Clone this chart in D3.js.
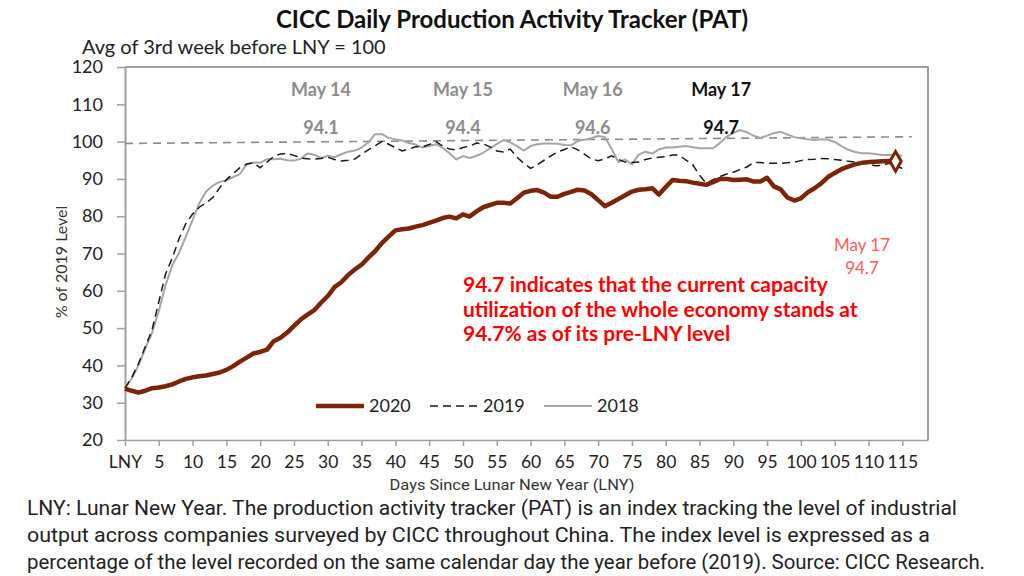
<!DOCTYPE html>
<html><head><meta charset="utf-8">
<script src="https://cdn.jsdelivr.net/npm/d3@7"></script>
<style>
html,body{margin:0;padding:0;background:#fff;}
svg{display:block;}
</style></head>
<body>
<svg id="chart" width="1024" height="576"></svg>
<script>
// ---------- data ----------
const xTicks = [0,5,10,15,20,25,30,35,40,45,50,55,60,65,70,75,80,85,90,95,100,105,110,115];
const xTickLabels = ["LNY","5","10","15","20","25","30","35","40","45","50","55","60","65","70","75","80","85","90","95","100","105","110","115"];
const yTicks = [20,30,40,50,60,70,80,90,100,110,120];

const s2020 = [33.8,33.2,32.7,33.2,33.9,34.1,34.4,34.9,35.7,36.4,36.8,37.1,37.3,37.7,38.1,38.8,39.8,41.0,42.1,43.2,
43.6,44.2,46.5,47.4,48.8,50.6,52.3,53.6,54.8,56.8,58.6,61.0,62.3,64.2,65.7,67.0,68.9,70.6,72.8,74.5,
76.2,76.5,76.7,77.2,77.6,78.2,78.8,79.5,79.9,79.4,80.5,79.9,81.3,82.4,83.0,83.6,83.6,83.4,84.8,86.3,
86.8,87.0,86.3,85.2,85.2,86.0,86.5,87.1,86.9,85.9,84.3,82.7,83.6,84.6,85.6,86.6,87.1,87.2,87.5,85.8,
87.8,89.7,89.5,89.4,89.0,88.7,88.4,89.1,90.0,90.0,89.7,89.8,89.9,89.3,89.3,90.3,88.0,87.2,85.0,84.2,
84.8,86.4,87.5,88.8,90.5,91.6,92.6,93.3,93.9,94.3,94.5,94.6,94.7,94.8,94.7];

const s2019 = [33.9,36.8,40.5,45.0,49.5,57.0,64.5,68.8,74.0,78.0,80.6,82.4,83.6,85.0,87.6,89.8,91.4,93.0,94.0,94.3,
93.0,94.5,96.0,96.7,96.8,96.3,95.6,95.4,95.3,95.5,95.8,95.2,94.8,95.0,95.3,96.6,97.8,98.9,100.0,99.3,
98.4,97.5,98.0,98.6,98.6,99.2,100.0,98.8,98.0,97.8,98.4,98.8,99.6,99.4,98.6,97.5,97.2,98.0,95.8,94.2,
92.8,93.8,95.0,96.2,97.2,97.9,98.6,97.8,96.6,95.3,94.9,95.4,96.2,95.2,94.5,94.4,94.5,95.2,95.6,95.8,
96.0,96.4,96.4,95.0,93.8,91.0,88.8,89.8,90.6,91.3,91.8,92.5,93.2,94.4,94.4,94.2,94.2,94.2,94.3,94.5,
94.9,95.2,95.3,95.5,95.4,95.2,95.0,94.7,94.5,94.3,94.0,93.5,93.6,94.2,93.6,92.8];

const s2018 = [33.9,36.5,40.0,44.5,48.7,54.5,61.5,66.9,70.2,74.5,79.0,83.5,86.6,88.2,89.2,89.6,90.5,91.3,93.9,94.4,
94.3,95.3,95.3,95.4,95.0,94.9,95.4,96.8,96.5,95.6,96.2,95.8,96.6,97.3,97.6,98.4,99.8,102.0,102.0,101.0,
100.6,100.3,99.6,99.2,98.4,98.8,99.3,98.3,96.9,95.2,96.1,95.6,96.2,97.0,98.2,99.3,100.4,99.8,98.8,97.6,
98.8,99.3,99.5,99.5,99.4,99.1,99.0,100.2,100.5,100.9,101.5,101.2,98.0,94.5,95.2,93.9,96.5,97.3,96.8,97.9,
98.4,98.4,98.6,98.8,98.5,98.2,98.2,98.2,99.6,101.3,102.3,103.1,102.5,101.6,101.0,101.6,102.3,102.6,101.9,101.2,
100.9,100.6,100.4,100.6,100.5,99.9,98.8,97.8,97.2,96.9,96.9,96.7,96.4,96.4,96.4,96.2];

const refLine = [{d:0, v:99.5},{d:116.4, v:101.3}];

const peakLabels = [
  {d:29, date:"May 14", val:"94.1", color:"#8c8c8c"},
  {d:50, date:"May 15", val:"94.4", color:"#8c8c8c"},
  {d:69.2, date:"May 16", val:"94.6", color:"#8c8c8c"},
  {d:88.2, date:"May 17", val:"94.7", color:"#111111"}
];
const redNote = ["94.7 indicates that the current capacity","utilization of the whole economy stands at","94.7% as of its pre-LNY level"];
const footnote = [
  "LNY: Lunar New Year. The production activity tracker (PAT) is an index tracking the level of industrial",
  "output across companies surveyed by CICC throughout China. The index level is expressed as a",
  "percentage of the level recorded on the same calendar day the year before (2019). Source: CICC Research."
];
const legendItems = [
  {name:"2020", color:"#7b2506", width:4.5, dash:null},
  {name:"2019", color:"#1a1a1a", width:1.5, dash:"8,5"},
  {name:"2018", color:"#a6a6a6", width:2, dash:null}
];

// ---------- drawing ----------
const svg = d3.select("#chart");
const L = 125, R = 928, T = 67, B = 440;
const x = d3.scaleLinear().domain([0, 118.8]).range([L, R]);
const y = d3.scaleLinear().domain([20, 120]).range([B, T]);
const FONT = "Lato, 'Open Sans', sans-serif";

// title
svg.append("text").attr("x", 512).attr("y", 28).attr("text-anchor","middle")
  .attr("font-family", FONT).attr("font-weight","bold").attr("font-size", 24).attr("fill","#111")
  .text("CICC Daily Production Activity Tracker (PAT)");
svg.append("text").attr("x", 82).attr("y", 54)
  .attr("font-family", FONT).attr("font-size", 20).attr("fill","#222")
  .text("Avg of 3rd week before LNY = 100");

// frame (top/right)
svg.append("path").attr("d", `M${L},${T}H${R}V${B}`).attr("fill","none")
  .attr("stroke","#808080").attr("stroke-width",1.5);

// y axis
const yAx = svg.append("g").attr("transform", `translate(${L},0)`)
  .call(d3.axisLeft(y).tickValues(yTicks).tickSize(8).tickPadding(14).tickSizeOuter(0));
yAx.select(".domain").attr("stroke","#a0a0a0").attr("stroke-width",2);
yAx.selectAll(".tick line").attr("stroke","#a0a0a0").attr("stroke-width",1.5);
yAx.selectAll(".tick text").attr("font-family", FONT).attr("font-size", 18).attr("fill","#222");

// x axis
const xAx = svg.append("g").attr("transform", `translate(0,${B})`)
  .call(d3.axisBottom(x).tickValues(xTicks).tickFormat((d,i)=>xTickLabels[i]).tickSize(6).tickPadding(10).tickSizeOuter(0));
xAx.select(".domain").attr("stroke","#a0a0a0").attr("stroke-width",1.5);
xAx.selectAll(".tick line").attr("stroke","#a0a0a0").attr("stroke-width",1.5);
xAx.selectAll(".tick text").attr("font-family", FONT).attr("font-size", 17.5).attr("fill","#222");

// axis titles
svg.append("text").attr("transform","translate(67,262) rotate(-90)").attr("text-anchor","middle")
  .attr("font-family", FONT).attr("font-size", 16).attr("fill","#333").text("% of 2019 Level");
svg.append("text").attr("x", 512).attr("y", 490).attr("text-anchor","middle")
  .attr("font-family","Roboto, sans-serif").attr("font-size", 14).attr("fill","#333")
  .attr("textLength", 245).attr("lengthAdjust","spacingAndGlyphs")
  .text("Days Since Lunar New Year (LNY)");

// reference dashed line
svg.append("line").attr("x1", x(refLine[0].d)).attr("y1", y(refLine[0].v))
  .attr("x2", x(refLine[1].d)).attr("y2", y(refLine[1].v))
  .attr("stroke","#8a8a8a").attr("stroke-width",1.6).attr("stroke-dasharray","8,6");

const line = d3.line().x((d,i)=>x(i)).y(d=>y(d));
svg.append("path").datum(s2018).attr("d", line).attr("fill","none")
  .attr("stroke","#a6a6a6").attr("stroke-width",2).attr("stroke-linejoin","round");
svg.append("path").datum(s2019).attr("d", line).attr("fill","none")
  .attr("stroke","#1a1a1a").attr("stroke-width",1.5).attr("stroke-dasharray","8,5");
svg.append("path").datum(s2020).attr("d", line).attr("fill","none")
  .attr("stroke","#7b2506").attr("stroke-width",4.5).attr("stroke-linejoin","round");

// end diamond
const lastI = s2020.length - 1;
svg.append("path").attr("d", d3.symbol().type(d3.symbolDiamond).size(110)())
  .attr("transform", `translate(${x(lastI)},${y(s2020[lastI])})`)
  .attr("fill","#fff").attr("stroke","#7b2506").attr("stroke-width",3);

// peak labels
peakLabels.forEach(p=>{
  svg.append("text").attr("x", x(p.d)).attr("y", 96).attr("text-anchor","middle")
    .attr("font-family", FONT).attr("font-weight","bold").attr("font-size", 18).attr("fill", p.color).text(p.date);
  svg.append("text").attr("x", x(p.d)).attr("y", 134).attr("text-anchor","middle")
    .attr("font-family", FONT).attr("font-weight","bold").attr("font-size", 18).attr("fill", p.color).text(p.val);
});

// red note
redNote.forEach((t,i)=>{
  svg.append("text").attr("x", 463).attr("y", 292 + i*24.5)
    .attr("font-family", FONT).attr("font-weight","bold").attr("font-size", 21).attr("fill","#ff0000").text(t);
});
// end label
svg.append("text").attr("x", 862).attr("y", 251).attr("text-anchor","middle")
  .attr("font-family", FONT).attr("font-size", 17).attr("fill","#ff5b5b").text("May 17");
svg.append("text").attr("x", 862).attr("y", 274).attr("text-anchor","middle")
  .attr("font-family", FONT).attr("font-size", 17).attr("fill","#ff5b5b").text(String(s2020[lastI]));

// legend
const legX = [316, 430, 544];
legendItems.forEach((it,i)=>{
  const g = svg.append("g");
  g.append("line").attr("x1", legX[i]).attr("x2", legX[i]+48).attr("y1",406).attr("y2",406)
    .attr("stroke", it.color).attr("stroke-width", it.width).attr("stroke-dasharray", it.dash);
  g.append("text").attr("x", legX[i]+53).attr("y", 412)
    .attr("font-family", FONT).attr("font-size", 18).attr("fill","#222").text(it.name);
});

// footnote
const fnLen = [930, 903, 958];
footnote.forEach((t,i)=>{
  svg.append("text").attr("x", 27).attr("y", 515 + i*27)
    .attr("font-family","Roboto, sans-serif").attr("font-size", 20).attr("fill","#222")
    .attr("textLength", fnLen[i]).attr("lengthAdjust","spacingAndGlyphs").text(t);
});
</script>
</body></html>
